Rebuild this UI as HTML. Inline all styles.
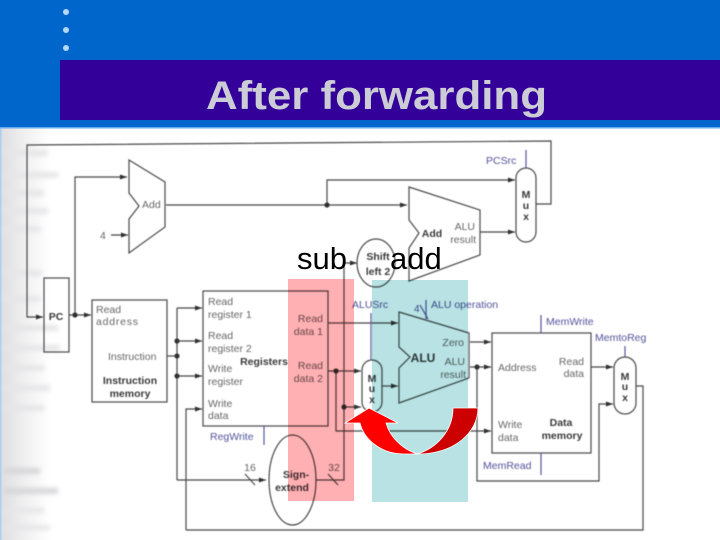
<!DOCTYPE html>
<html><head><meta charset="utf-8"><style>
html,body{margin:0;padding:0;background:#fff}
svg{display:block}
.t{font-family:"Liberation Sans",sans-serif;font-size:10.5px;fill:#666}
.b{font-family:"Liberation Sans",sans-serif;font-size:10.5px;font-weight:bold;fill:#3a3a3a}
.p{font-family:"Liberation Sans",sans-serif;font-size:10.5px;fill:#52529a}
</style></head><body>
<svg width="720" height="540" viewBox="0 0 720 540" xmlns="http://www.w3.org/2000/svg">
<defs>
<linearGradient id="g" x1="0" x2="1" y1="0" y2="0"><stop offset="0" stop-color="#dedee2"/><stop offset="0.5" stop-color="#f0f0f0"/><stop offset="1" stop-color="#fff"/></linearGradient>
<linearGradient id="e" x1="0" x2="1" y1="0" y2="0"><stop offset="0" stop-color="#a8c8ee"/><stop offset="1" stop-color="#e4e4e8"/></linearGradient>
<filter id="f" x="-5%" y="-5%" width="110%" height="110%"><feGaussianBlur stdDeviation="0.5"/></filter>
<filter id="f2" x="-20%" y="-20%" width="140%" height="140%"><feGaussianBlur stdDeviation="2.4"/></filter>
<marker id="a" markerUnits="userSpaceOnUse" markerWidth="8" markerHeight="6" refX="7" refY="3" orient="auto"><path d="M0 0.5L7 3L0 5.5z" fill="#333"/></marker>
</defs>
<rect width="720" height="540" fill="#fff"/>
<rect x="0" y="127" width="50" height="413" fill="url(#g)"/>
<rect x="0" y="127" width="3" height="413" fill="url(#e)"/>
<g filter="url(#f2)" fill="#e6e6e8">
<rect x="4" y="150" width="44" height="6"/><rect x="4" y="172" width="54" height="6"/><rect x="4" y="190" width="40" height="6"/><rect x="4" y="208" width="44" height="6"/><rect x="4" y="226" width="36" height="6"/>
<rect x="4" y="270" width="38" height="6"/><rect x="4" y="296" width="36" height="6"/><rect x="4" y="325" width="54" height="6"/><rect x="4" y="345" width="56" height="6"/><rect x="4" y="365" width="40" height="6"/><rect x="4" y="385" width="46" height="6"/><rect x="4" y="405" width="40" height="6"/>
<rect x="4" y="468" width="36" height="6" fill="#d6d6d8"/><rect x="4" y="488" width="54" height="6" fill="#d6d6d8"/><rect x="4" y="508" width="40" height="5"/><rect x="4" y="525" width="46" height="5"/>
</g>

<g filter="url(#f)">
<g fill="none" stroke="#4a4a4a" stroke-width="1.2">
<path d="M536 204H551V141L27 145V317H43" marker-end="url(#a)"/>
<path d="M75 315V177H127" marker-end="url(#a)"/>
<path d="M69 315H91" marker-end="url(#a)"/>
<path d="M111 235H128" marker-end="url(#a)"/>
<path d="M166 205H407" marker-end="url(#a)"/>
<path d="M327 205V180H515" marker-end="url(#a)"/>
<path d="M480 232H515" marker-end="url(#a)"/>
<path d="M129 160L165 182V227L129 253V219L139 206L129 193Z"/>
<path d="M409 187L480 210V255L409 281V248L419 233L409 220Z"/>
<rect x="516" y="168" width="20" height="74" rx="10"/>
<rect x="44" y="278" width="25" height="74"/>
<rect x="92" y="300" width="75" height="102"/>
<rect x="203" y="291" width="125" height="135"/>
<path d="M167 356H177"/>
<path d="M177 308V480"/>
<path d="M177 308H202" marker-end="url(#a)"/>
<path d="M177 341H202" marker-end="url(#a)"/>
<path d="M177 376H202" marker-end="url(#a)"/>
<path d="M177 480H266" marker-end="url(#a)"/>
<path d="M245 474L255 485"/>
<path d="M186 530V409H202" marker-end="url(#a)"/>
<path d="M186 530H643V386H636"/>
<ellipse cx="292.500" cy="480" rx="23.500" ry="45"/>
<ellipse cx="376" cy="263" rx="19" ry="24"/>
<path d="M316 480H344V263H357" marker-end="url(#a)"/>
<path d="M328 474L338 485"/>
<path d="M344 407H361" marker-end="url(#a)"/>
<path d="M328 323H398" marker-end="url(#a)"/>
<path d="M328 371H361" marker-end="url(#a)"/>
<path d="M336 371V431H491" marker-end="url(#a)"/>
<rect x="362" y="360" width="20" height="52" rx="10"/>
<path d="M382 386H398" marker-end="url(#a)"/>
<path d="M399 312L469 333V378L399 403V368L410 357L399 347Z"/>
<path d="M470 342H491" marker-end="url(#a)"/>
<path d="M470 367H491" marker-end="url(#a)"/>
<path d="M477 367V481H599V404H613" marker-end="url(#a)"/>
<rect x="492" y="333" width="99" height="120"/>
<path d="M591 367H613" marker-end="url(#a)"/>
<rect x="614" y="357" width="22" height="57" rx="11"/>
</g>
<g fill="#333"><circle cx="75" cy="315" r="2.600"/><circle cx="327" cy="205" r="2.600"/><circle cx="177" cy="341" r="2.600"/><circle cx="177" cy="356" r="2.600"/><circle cx="177" cy="376" r="2.600"/><circle cx="336" cy="371" r="2.600"/><circle cx="344" cy="407" r="2.600"/><circle cx="477" cy="367" r="2.600"/></g>
<g fill="none" stroke="#55559a" stroke-width="1.2">
<path d="M526 150V168M264 426V445M371 313V360M426 300V319M420 305L428 319M541 315V333M541 453V475M625 346V357"/>
</g>
<g class="t">
<text x="142" y="208">Add</text>
<text x="100" y="239">4</text>
<text x="96" y="313">Read</text><text x="96" y="325" textLength="42">address</text>
<text x="108" y="360">Instruction</text>
<text x="208" y="305">Read</text><text x="208" y="318">register 1</text>
<text x="208" y="339">Read</text><text x="208" y="352">register 2</text>
<text x="208" y="372">Write</text><text x="208" y="385">register</text>
<text x="208" y="407">Write</text><text x="208" y="419">data</text>
<text x="323" y="322" text-anchor="end">Read</text><text x="323" y="335" text-anchor="end">data 1</text>
<text x="323" y="369" text-anchor="end">Read</text><text x="323" y="382" text-anchor="end">data 2</text>
<text x="250" y="471" text-anchor="middle">16</text>
<text x="334" y="471" text-anchor="middle">32</text>
<text x="475" y="230" text-anchor="end">ALU</text><text x="476" y="243" text-anchor="end">result</text>
<text x="464" y="346" text-anchor="end">Zero</text>
<text x="465" y="365" text-anchor="end">ALU</text><text x="466" y="378" text-anchor="end">result</text>
<text x="498" y="371">Address</text>
<text x="584" y="365" text-anchor="end">Read</text><text x="584" y="377" text-anchor="end">data</text>
<text x="498" y="428">Write</text><text x="498" y="441">data</text>
</g>
<g class="b">
<text x="56" y="320" text-anchor="middle">PC</text>
<text x="130" y="384" text-anchor="middle">Instruction</text><text x="130" y="397" text-anchor="middle">memory</text>
<text x="264" y="365" text-anchor="middle">Registers</text>
<text x="296" y="478" text-anchor="middle">Sign-</text><text x="292" y="491" text-anchor="middle">extend</text>
<text x="378" y="260" text-anchor="middle">Shift</text><text x="378" y="275" text-anchor="middle">left 2</text>
<text x="432" y="237" text-anchor="middle">Add</text>
<text x="423" y="362" text-anchor="middle" style="font-size:12px">ALU</text>
<text x="561" y="426" text-anchor="middle">Data</text><text x="562" y="439" text-anchor="middle">memory</text>
<text x="526" y="198" text-anchor="middle">M</text><text x="526" y="209" text-anchor="middle">u</text><text x="526" y="220" text-anchor="middle">x</text>
<text x="372" y="382" text-anchor="middle">M</text><text x="372" y="392" text-anchor="middle">u</text><text x="372" y="403" text-anchor="middle">x</text>
<text x="625" y="380" text-anchor="middle">M</text><text x="625" y="390" text-anchor="middle">u</text><text x="625" y="401" text-anchor="middle">x</text>
</g>
<g class="p">
<text x="486" y="164">PCSrc</text>
<text x="210" y="440">RegWrite</text>
<text x="352" y="308">ALUSrc</text>
<text x="414" y="312" style="font-size:10px">4</text>
<text x="431" y="308">ALU operation</text>
<text x="546" y="325">MemWrite</text>
<text x="595" y="341">MemtoReg</text>
<text x="483" y="469">MemRead</text>
</g>
</g>

<g style="mix-blend-mode:multiply">
<rect x="288" y="279" width="66" height="222" fill="#ffb0b3"/>
<rect x="372" y="280" width="96" height="222" fill="#b8e2e3"/>
</g>

<!-- header -->
<rect x="0" y="0" width="720" height="127" fill="#0066cc"/>
<rect x="0" y="127" width="720" height="1.500" fill="#66aaee"/>
<rect x="60" y="60" width="660" height="60" fill="#330099"/>
<circle cx="66" cy="12" r="3" fill="#b5d8f5"/><circle cx="66" cy="30" r="3" fill="#b5d8f5"/><circle cx="66" cy="48" r="3" fill="#b5d8f5"/>
<text x="206" y="109" font-family="Liberation Sans,sans-serif" font-size="40" font-weight="bold" fill="#ccccd6" textLength="341" lengthAdjust="spacingAndGlyphs">After forwarding</text>

<text x="297" y="269" font-family="Liberation Sans,sans-serif" font-size="31" fill="#000">sub</text>
<text x="390" y="269" font-family="Liberation Sans,sans-serif" font-size="31" fill="#000">add</text>

<!-- red arrow -->
<path d="M453 408H478C478 432 455 454 417 454C435 449 453 432 453 408Z" fill="#cc0000" stroke="#fff" stroke-width="0.800"/>
<path d="M369 408L398 423H386C390 437 402 449 417 454H403C382 454 364 440 360 423H345Z" fill="#ff0000" stroke="#fff" stroke-width="0.800"/>
</svg>
</body></html>
